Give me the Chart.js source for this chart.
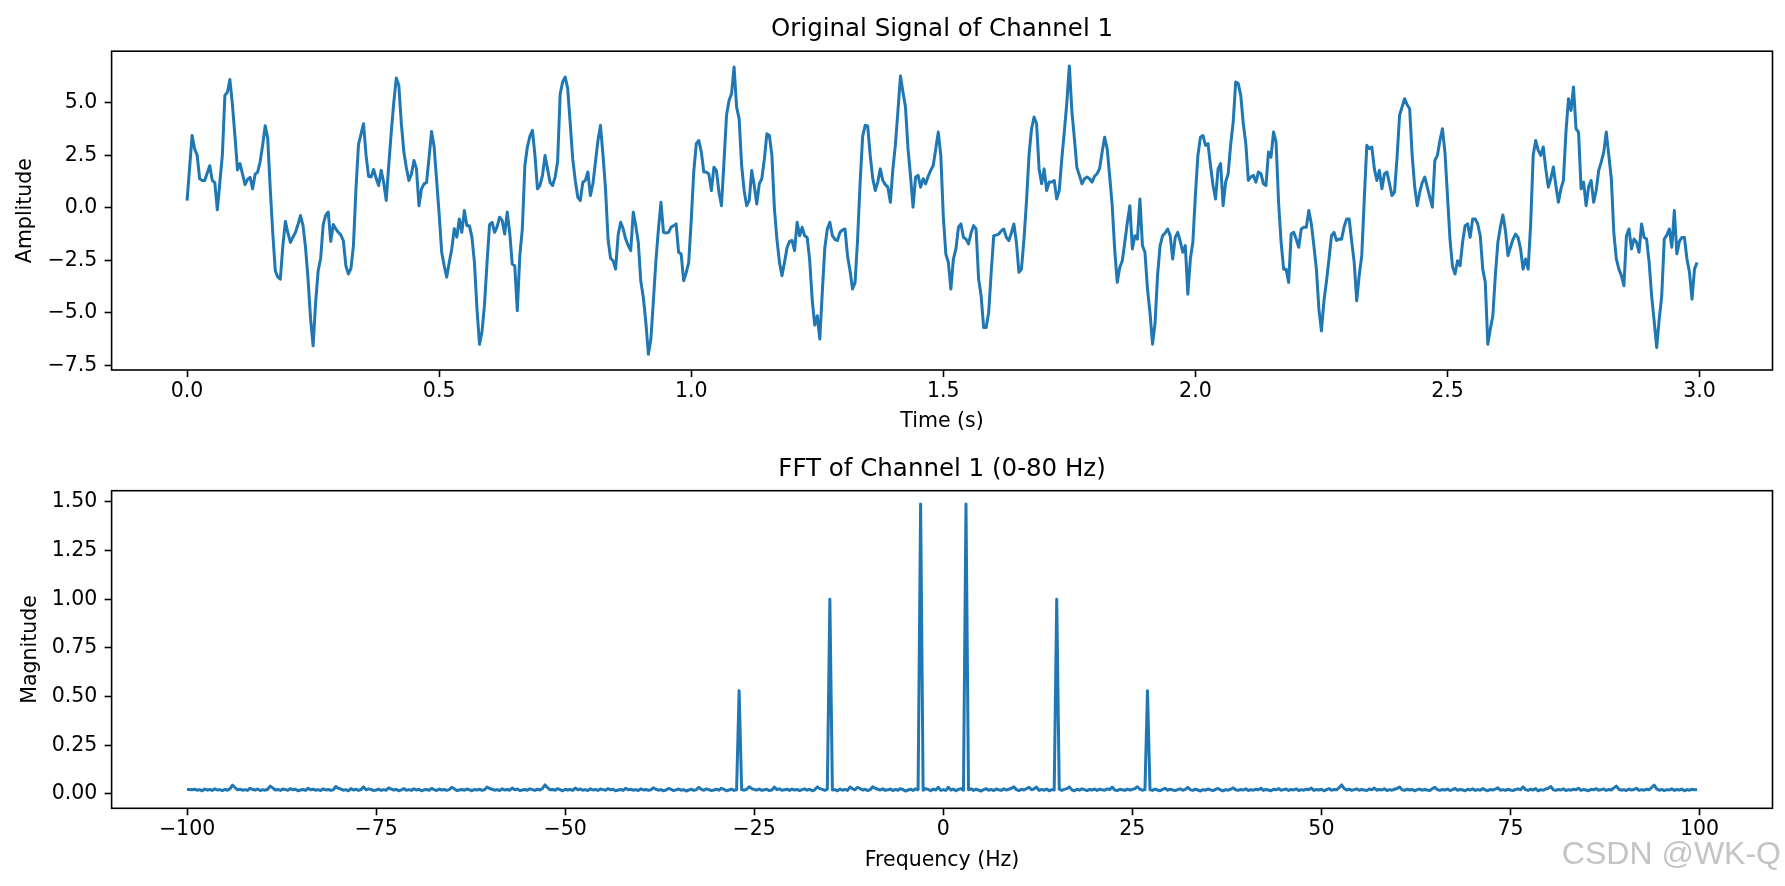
<!DOCTYPE html>
<html><head><meta charset="utf-8">
<script src="https://cdn.jsdelivr.net/npm/chart.js@4/dist/chart.umd.min.js"></script>
<style>
html,body{margin:0;padding:0;background:#fff;width:1785px;height:886px;overflow:hidden;}
canvas{position:absolute;left:0;display:block;}
#c1{top:0;}
#c2{top:443px;}
</style></head><body>
<canvas id="c1" width="1785" height="443"></canvas>
<canvas id="c2" width="1785" height="443"></canvas>
<script>
const SAMPLE_RATE = 200;

const SIGNAL = [
0.34,1.9,3.44,2.8,2.5,1.38,1.3,1.3,1.65,2.0,1.3,1.2,-0.1,1.2,2.5,5.35,5.5,6.1,4.9,3.4,
1.8,2.1,1.6,1.1,1.35,1.45,0.9,1.6,1.7,2.2,3.0,3.9,3.3,0.9,-1.2,-3.0,-3.3,-3.4,-1.8,-0.65,
-1.2,-1.65,-1.4,-1.17,-0.8,-0.37,-0.85,-1.9,-3.4,-5.3,-6.57,-4.5,-3.0,-2.4,-0.8,-0.35,-0.2,-1.6,-0.8,-1.0,
-1.17,-1.3,-1.57,-2.76,-3.15,-2.9,-1.8,0.9,3.0,3.5,4.0,2.5,1.5,1.46,1.82,1.4,1.06,1.78,1.2,0.35,
2.0,3.6,5.0,6.18,5.83,4.0,2.65,1.9,1.3,1.6,2.25,1.85,0.1,0.9,1.14,1.2,2.4,3.63,2.9,1.3,
-0.3,-2.1,-2.76,-3.3,-2.6,-1.96,-1.0,-1.4,-0.53,-1.17,-0.13,-0.85,-0.85,-1.4,-2.6,-4.8,-6.5,-5.9,-4.6,-2.6,
-0.8,-0.69,-1.17,-0.9,-0.45,-0.6,-1.25,-0.2,-1.2,-2.68,-2.76,-4.9,-2.28,-1.0,2.0,2.9,3.4,3.68,2.5,0.9,
1.06,1.54,2.49,1.85,1.2,1.06,1.46,2.2,5.4,5.99,6.22,5.67,4.0,2.3,1.3,0.5,0.34,1.22,1.3,1.7,
0.58,1.14,2.17,3.2,3.92,2.49,0.9,-1.5,-2.4,-2.52,-2.92,-1.3,-0.69,-1.0,-1.49,-1.8,-2.04,-0.21,-0.85,-1.65,
-3.5,-4.27,-5.46,-6.97,-6.25,-4.4,-2.5,-1.0,0.26,-1.17,-1.2,-1.17,-0.93,-0.85,-0.77,-2.12,-2.2,-3.47,-3.1,-2.6,
-0.6,1.7,3.05,3.2,2.65,1.7,1.7,1.6,0.82,1.93,1.77,0.74,0.1,2.2,4.4,5.1,5.43,6.7,4.79,4.24,
2.0,0.8,0.1,0.34,1.77,1.06,0.18,1.14,1.38,2.3,3.52,3.44,2.49,-0.05,-1.5,-2.6,-3.23,-2.6,-1.9,-1.6,
-1.56,-2.04,-0.69,-1.33,-0.93,-1.33,-1.41,-2.5,-4.4,-5.58,-5.14,-6.25,-4.0,-1.9,-1.0,-0.69,-1.33,-1.5,-1.56,-1.17,
-1.05,-1.01,-2.28,-3.0,-3.87,-3.55,-1.5,1.2,3.4,3.92,3.89,2.5,1.4,0.82,1.22,1.85,1.3,1.1,0.98,0.26,
1.85,3.0,4.6,6.27,5.5,4.79,2.8,1.5,0.03,1.46,1.54,0.98,1.38,1.14,1.5,1.78,2.01,2.8,3.6,2.5,
-0.4,-2.2,-2.6,-3.87,-2.44,-1.96,-0.93,-0.77,-1.41,-1.49,-1.72,-1.2,-0.85,-1.01,-3.39,-4.19,-5.7,-5.7,-4.98,-3.07,
-1.33,-1.3,-1.25,-1.1,-1.01,-1.41,-1.56,-1.2,-0.77,-1.65,-3.07,-2.92,-1.49,0.3,2.5,3.76,4.32,4.0,1.85,1.14,
1.85,0.82,1.22,1.22,1.3,0.42,0.82,2.33,3.6,5.0,6.75,4.6,3.3,1.9,1.54,1.14,1.38,1.46,1.38,1.22,
1.5,1.62,1.86,2.65,3.36,2.81,1.5,0.1,-2.0,-3.55,-2.84,-2.52,-1.64,-0.7,0.1,-1.96,-1.33,-1.49,0.42,-1.8,
-2.12,-3.87,-5.0,-6.49,-5.5,-3.2,-1.8,-1.33,-1.2,-1.01,-1.33,-2.44,-1.41,-1.17,-1.6,-2.12,-1.8,-4.11,-2.44,-1.64,
0.6,2.49,3.36,3.44,2.97,3.05,2.0,1.06,0.42,1.85,2.1,0.1,1.22,1.62,3.0,4.08,5.99,5.91,5.35,4.0,
3.05,1.3,1.46,1.54,1.22,1.7,1.62,1.14,1.06,2.65,2.41,3.6,3.13,0.26,-1.64,-2.92,-2.92,-3.55,-1.25,-1.17,
-1.5,-1.88,-1.01,-0.93,-0.93,-0.13,-0.77,-1.8,-2.92,-4.82,-5.86,-4.43,-3.5,-2.44,-1.33,-1.17,-1.56,-1.49,-1.5,-0.9,
-0.53,-0.53,-1.6,-2.6,-4.43,-3.2,-2.28,0.42,2.97,2.81,2.89,1.85,1.3,1.78,0.9,1.62,1.7,1.14,0.58,0.74,
2.4,4.4,4.8,5.19,4.9,4.71,2.49,1.0,0.1,0.74,1.2,1.46,0.98,0.5,0.03,2.25,2.49,3.2,3.76,2.65,
0.58,-1.5,-2.8,-3.15,-2.52,-2.76,-1.64,-0.85,-0.77,-1.41,-0.53,-0.53,-0.77,-1.33,-2.92,-3.55,-6.49,-5.77,-5.14,-3.2,
-1.64,-0.9,-0.34,-1.09,-2.28,-1.88,-1.5,-1.25,-1.41,-1.96,-2.92,-2.44,-2.92,-0.8,2.49,3.2,2.73,2.49,2.89,1.85,
0.98,1.38,1.94,1.06,0.26,0.9,1.3,3.6,5.19,4.63,5.75,3.76,3.6,0.9,1.22,0.1,1.0,1.3,0.26,0.82,
1.78,2.17,2.65,3.6,2.5,1.4,-1.2,-2.44,-2.92,-3.23,-3.71,-1.33,-1.01,-1.96,-1.49,-1.64,-2.12,-0.77,-1.41,-1.49,
-2.6,-4.19,-5.4,-6.65,-5.3,-4.19,-1.49,-1.3,-1.01,-1.88,-0.13,-2.2,-1.6,-1.41,-1.41,-2.44,-3.07,-4.35,-2.92,-2.6
];

const FFT_MAG = [
0.022,
0.023,0.021,0.024,0.019,0.022,0.016,0.025,0.020,0.023,0.018,0.026,0.020,0.022,0.017,0.023,0.019,0.026,0.045,0.033,0.021,
0.024,0.019,0.022,0.018,0.029,0.023,0.020,0.025,0.017,0.022,0.019,0.024,0.040,0.031,0.020,0.023,0.018,0.025,0.022,0.019,
0.027,0.021,0.024,0.016,0.020,0.023,0.018,0.029,0.021,0.024,0.019,0.022,0.017,0.026,0.020,0.023,0.018,0.021,0.038,0.029,
0.025,0.019,0.022,0.016,0.027,0.020,0.024,0.018,0.022,0.036,0.021,0.026,0.023,0.017,0.020,0.024,0.018,0.022,0.019,0.031,
0.025,0.020,0.023,0.016,0.021,0.027,0.019,0.022,0.018,0.026,0.020,0.024,0.016,0.021,0.023,0.019,0.028,0.022,0.017,0.025,
0.020,0.023,0.018,0.022,0.034,0.026,0.017,0.020,0.023,0.019,0.025,0.022,0.016,0.023,0.020,0.024,0.018,0.021,0.035,0.028,
0.024,0.019,0.022,0.017,0.026,0.020,0.023,0.019,0.030,0.021,0.025,0.017,0.020,0.023,0.019,0.026,0.022,0.018,0.024,0.020,
0.028,0.046,0.032,0.021,0.023,0.019,0.027,0.022,0.016,0.024,0.020,0.023,0.018,0.030,0.021,0.025,0.019,0.022,0.017,0.026,
0.020,0.023,0.018,0.025,0.022,0.019,0.027,0.021,0.024,0.016,0.020,0.023,0.018,0.029,0.021,0.024,0.019,0.022,0.017,0.026,
0.020,0.023,0.018,0.021,0.031,0.024,0.019,0.022,0.016,0.020,0.028,0.023,0.017,0.021,0.025,0.019,0.022,0.015,0.020,0.024,
0.018,0.021,0.034,0.023,0.019,0.026,0.022,0.017,0.020,0.024,0.019,0.029,0.023,0.016,0.020,0.025,0.018,0.021,0.530,0.022,
0.019,0.024,0.037,0.027,0.023,0.020,0.025,0.018,0.021,0.024,0.017,0.020,0.035,0.022,0.026,0.019,0.021,0.024,0.018,0.025,
0.020,0.023,0.017,0.022,0.026,0.019,0.024,0.016,0.021,0.036,0.027,0.023,0.018,0.024,1.000,0.020,0.022,0.016,0.025,0.019,
0.023,0.018,0.035,0.026,0.021,0.034,0.027,0.020,0.024,0.017,0.022,0.036,0.029,0.024,0.020,0.026,0.018,0.021,0.025,0.017,
0.023,0.019,0.027,0.022,0.015,0.020,0.024,0.018,0.026,0.021,1.490,0.019,0.027,0.023,0.016,0.025,0.020,0.034,0.018,
0.022,0.018,0.034,0.020,0.025,0.016,0.023,0.027,0.019,1.490,0.021,0.026,0.018,0.024,0.020,0.015,0.022,0.027,0.019,0.023,
0.017,0.025,0.021,0.018,0.026,0.020,0.024,0.029,0.036,0.022,0.017,0.024,0.020,0.027,0.034,0.021,0.026,0.035,0.018,0.023,
0.019,0.025,0.016,0.022,0.020,1.000,0.024,0.018,0.023,0.027,0.036,0.021,0.016,0.024,0.019,0.026,0.022,0.017,0.023,0.020,
0.025,0.018,0.024,0.021,0.019,0.026,0.022,0.035,0.020,0.017,0.024,0.021,0.018,0.025,0.020,0.023,0.027,0.037,0.024,0.019,
0.022,0.530,0.021,0.018,0.025,0.020,0.016,0.023,0.029,0.019,0.024,0.020,0.017,0.022,0.026,0.019,0.023,0.034,0.021,0.018,
0.024,0.020,0.015,0.022,0.019,0.025,0.021,0.017,0.023,0.028,0.020,0.016,0.022,0.019,0.024,0.031,0.021,0.018,0.023,0.020,
0.026,0.017,0.022,0.019,0.024,0.021,0.029,0.018,0.023,0.020,0.016,0.024,0.021,0.027,0.019,0.022,0.025,0.018,0.023,0.020,
0.026,0.017,0.022,0.019,0.025,0.021,0.030,0.018,0.023,0.020,0.024,0.016,0.022,0.027,0.019,0.023,0.021,0.032,0.046,0.028,
0.020,0.024,0.018,0.022,0.026,0.019,0.023,0.020,0.017,0.025,0.021,0.030,0.019,0.023,0.020,0.026,0.017,0.022,0.019,0.024,
0.028,0.035,0.021,0.018,0.024,0.020,0.023,0.016,0.022,0.025,0.019,0.023,0.020,0.017,0.026,0.034,0.022,0.018,0.023,0.020,
0.025,0.017,0.022,0.028,0.019,0.023,0.021,0.016,0.024,0.020,0.026,0.018,0.022,0.019,0.027,0.021,0.016,0.023,0.020,0.025,
0.031,0.019,0.022,0.018,0.024,0.020,0.017,0.023,0.026,0.021,0.036,0.022,0.018,0.024,0.020,0.027,0.016,0.022,0.019,0.025,
0.029,0.038,0.021,0.018,0.023,0.020,0.026,0.017,0.022,0.019,0.024,0.021,0.029,0.018,0.023,0.020,0.016,0.024,0.021,0.027,
0.019,0.022,0.025,0.018,0.023,0.020,0.031,0.040,0.024,0.019,0.022,0.017,0.025,0.020,0.023,0.029,0.018,0.022,0.019,0.024,
0.021,0.033,0.045,0.026,0.019,0.023,0.017,0.022,0.020,0.026,0.018,0.023,0.020,0.025,0.016,0.022,0.019,0.024,0.021,0.023
];

const SIGNAL_Y_TICKS = [-7.5, -5, -2.5, 0, 2.5, 5];
const SIGNAL_Y_LABELS = ['\u22127.5', '\u22125.0', '\u22122.5', '0.0', '2.5', '5.0'];
const SIGNAL_X_TICKS = [0, 0.5, 1, 1.5, 2, 2.5, 3];
const SIGNAL_X_LABELS = ['0.0', '0.5', '1.0', '1.5', '2.0', '2.5', '3.0'];
const FFT_Y_TICKS = [0, 0.25, 0.5, 0.75, 1, 1.25, 1.5];
const FFT_Y_LABELS = ['0.00', '0.25', '0.50', '0.75', '1.00', '1.25', '1.50'];
const FFT_X_TICKS = [-100, -75, -50, -25, 0, 25, 50, 75, 100];
const FFT_X_LABELS = ['\u2212100', '\u221275', '\u221250', '\u221225', '0', '25', '50', '75', '100'];

const TITLE_SIGNAL = 'Original Signal of Channel 1';
const TITLE_FFT = 'FFT of Channel 1 (0-80 Hz)';
const XLABEL_SIGNAL = 'Time (s)';
const YLABEL_SIGNAL = 'Amplitude';
const XLABEL_FFT = 'Frequency (Hz)';
const YLABEL_FFT = 'Magnitude';
const WATERMARK = 'CSDN @WK-Q';

const FONT = 'DejaVu Sans';
const LINE_COLOR = '#1f77b4';

const frame = {
  id: 'frame',
  afterDatasetsDraw(chart) {
    const {ctx, chartArea: a} = chart;
    ctx.save();
    ctx.strokeStyle = '#000';
    ctx.lineWidth = 1.6;
    ctx.strokeRect(a.left, a.top, a.right - a.left, a.bottom - a.top);
    ctx.restore();
  }
};

const watermark = {
  id: 'watermark',
  afterDraw(chart) {
    if (!chart.options.plugins.watermark || !chart.options.plugins.watermark.show) return;
    const ctx = chart.ctx;
    ctx.save();
    ctx.font = '32px "Liberation Sans", Arial, sans-serif';
    ctx.textBaseline = 'alphabetic';
    ctx.textAlign = 'right';
    ctx.fillStyle = '#c4c4c4';
    ctx.fillText(WATERMARK, 1781, 421);
    ctx.restore();
  }
};

function axisX(min, max, ticks, labels, title, titlePadBottom, height) {
  return {
    type: 'linear', min, max,
    afterBuildTicks: s => { s.ticks = ticks.map(v => ({value: v})); },
    afterFit: s => { s.height = height; },
    border: {display: false},
    grid: {display: true, drawOnChartArea: false, drawTicks: true, tickLength: 7, tickWidth: 1.6, tickColor: '#000', color: '#000'},
    ticks: {
      autoSkip: false, maxRotation: 0, padding: 2.4, color: '#000',
      font: {family: FONT, size: 20.5, lineHeight: 1.2},
      callback: v => labels[ticks.indexOf(v)]
    },
    title: {display: true, text: title, color: '#000', font: {family: FONT, size: 20.5, lineHeight: 1.2}, padding: {top: 0, bottom: titlePadBottom}}
  };
}

function axisY(min, max, ticks, labels, title, titlePadTop) {
  return {
    type: 'linear', min, max,
    afterBuildTicks: s => { s.ticks = ticks.map(v => ({value: v})); },
    afterFit: s => { s.width = 111.6; },
    border: {display: false},
    grid: {display: true, drawOnChartArea: false, drawTicks: true, tickLength: 7, tickWidth: 1.6, tickColor: '#000', color: '#000'},
    ticks: {
      autoSkip: false, padding: 7.2, color: '#000',
      font: {family: FONT, size: 20.5, lineHeight: 1.2},
      callback: v => labels[ticks.indexOf(v)]
    },
    title: {display: true, text: title, color: '#000', font: {family: FONT, size: 20.5, lineHeight: 1.2}, padding: {top: titlePadTop, bottom: 0}}
  };
}

function makeChart(id, points, xScale, yScale, title, titlePad, showWatermark) {
  return new Chart(document.getElementById(id), {
    type: 'line',
    data: {datasets: [{
      data: points,
      borderColor: LINE_COLOR, borderWidth: 3, pointRadius: 0, fill: false, tension: 0,
      borderJoinStyle: 'round', borderCapStyle: 'butt'
    }]},
    options: {
      responsive: false, animation: false, devicePixelRatio: 1, events: [],
      layout: {padding: {left: 0, right: 12.5, top: 0, bottom: 0}},
      plugins: {
        legend: {display: false}, tooltip: {enabled: false},
        title: {display: true, text: title, fullSize: false, color: '#000',
          font: {family: FONT, size: 24.5, weight: 'normal', lineHeight: 1.2}, padding: titlePad},
        watermark: {show: showWatermark}
      },
      scales: {x: xScale, y: yScale}
    },
    plugins: [frame, watermark]
  });
}

const signalPoints = SIGNAL.map((v, i) => ({x: i / SAMPLE_RATE, y: v}));
const fftStep = SAMPLE_RATE / FFT_MAG.length;
const fftPoints = FFT_MAG.map((v, k) => ({x: -SAMPLE_RATE / 2 + k * fftStep, y: v}));

makeChart('c1', signalPoints,
  axisX(-0.1497, 3.1447, SIGNAL_X_TICKS, SIGNAL_X_LABELS, XLABEL_SIGNAL, 8.7, 73),
  axisY(-7.72, 7.45, SIGNAL_Y_TICKS, SIGNAL_Y_LABELS, YLABEL_SIGNAL, 13.2),
  TITLE_SIGNAL, {top: 15.3, bottom: 6.5}, false);

makeChart('c2', fftPoints,
  axisX(-109.98, 109.65, FFT_X_TICKS, FFT_X_LABELS, XLABEL_FFT, 13.4, 77.7),
  axisY(-0.074, 1.558, FFT_Y_TICKS, FFT_Y_LABELS, YLABEL_FFT, 18.2),
  TITLE_FFT, {top: 11.8, bottom: 6.5}, true);
</script>
</body></html>
